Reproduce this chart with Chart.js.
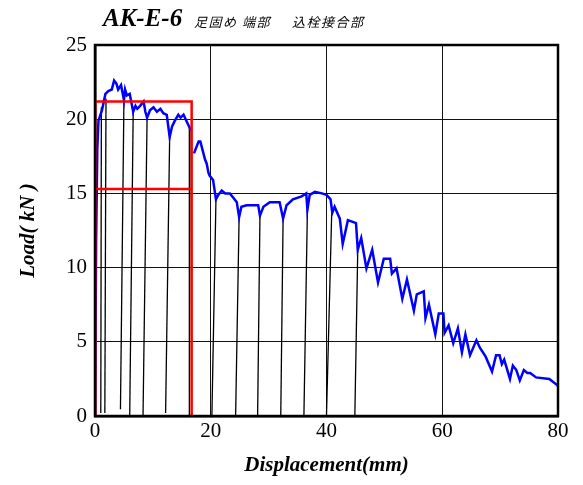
<!DOCTYPE html>
<html>
<head>
<meta charset="utf-8">
<script src="https://cdn.jsdelivr.net/npm/chart.js@4"></script>
<style>
    body { margin: 0; background: #fff; }
    #wrap { position: relative; width: 583px; height: 485px; }
    .ttl { position: absolute; color: #000; white-space: pre; }
    #t1 { left: 103px; top: 4px; font: italic bold 25px "Liberation Serif", serif; }
    #t2 { left: 194px; top: 12px; font: italic 13px "Noto Sans CJK JP", sans-serif; letter-spacing: 1.5px; }
    #t3 { left: 292px; top: 12px; font: italic 13px "Noto Sans CJK JP", sans-serif; letter-spacing: 1.5px; }
</style>
</head>
<body>
<div id="wrap">
    <canvas id="chart" width="583" height="485"></canvas>
    <div class="ttl" id="t1">AK-E-6</div>
    <div class="ttl" id="t2">足固め 端部</div>
    <div class="ttl" id="t3">込栓接合部</div>
</div>
<script>
    "use strict";

    // Envelope (blue), null = break in the recorded curve
    var envX = [0, 0.2, 0.4, 0.6, 1.2, 1.8, 2.3, 2.9, 3.3, 3.7, 4.0, 4.5, 5.0, 5.2, 5.5, 6.0, 6.6, 7.0, 7.3, 7.8,
        8.4, 8.7, 9.0, 9.5, 10.1, 10.7, 11.3, 11.8, 12.4, 12.9, 13.3, 13.8, 14.4, 14.8, 15.3, 15.9, 16.4, 16.5, 16.8,
        17.1, 17.9, 18.2, 18.4, 19.0, 19.3, 19.6, 19.8, 20.4, 20.9, 21.3, 21.9, 22.5, 23.3, 23.9, 24.5, 24.9,
        25.3, 26.2, 27.3, 28.2, 28.5, 29.1, 30.2, 31.9, 32.5, 33.1, 34.2, 35.7, 36.5, 36.7, 37.1, 38.0, 39.2,
        40.0, 40.7, 41.0, 41.4, 42.3, 42.8, 43.7, 45.1, 45.4, 46.0, 46.9, 47.9, 48.9, 49.9, 51.0, 51.3, 52.1,
        53.1, 53.9, 55.1, 55.6, 56.8, 57.1, 57.7, 58.8, 59.4, 60.2, 60.4, 61.1, 61.9, 62.7, 63.4, 64.0, 64.8,
        65.9, 66.5, 67.5, 68.6, 69.3, 69.9, 70.3, 70.7, 71.7, 72.2, 72.8, 73.4, 74.1, 74.7, 75.2, 76.2, 78.5,
        79.8, 80];
    var envY = [0, 12, 18, 19.9, 20.6, 21.7, 21.9, 22.0, 22.6, 22.4, 22.0, 22.3, 21.3, 22.0, 21.6, 21.7, 20.5, 20.9, 20.7, 20.9,
        21.2, 20.5, 20.1, 20.6, 20.8, 20.5, 20.7, 20.4, 20.3, 18.8, 19.5, 19.9, 20.3, 20.1, 20.3, 19.8, 19.4, 19.2, null,
        17.7, 18.5, 18.5, 18.2, 17.3, 17.0, 16.4, 16.2, 15.9, 14.6, 14.9, 15.2, 15.0, 15.0, 14.7, 14.4, 13.4,
        14.1, 14.2, 14.2, 14.2, 13.5, 14.1, 14.4, 14.4, 13.3, 14.2, 14.6, 14.8, 15.0, 13.9, 14.9, 15.1, 15.0,
        14.9, 14.6, 13.7, 14.1, 13.3, 11.6, 13.2, 13.0, 11.2, 12.0, 9.95, 11.2, 9.0, 10.6, 10.6, 9.6, 9.95,
        7.9, 9.2, 7.1, 8.2, 8.4, 6.6, 7.5, 5.5, 6.9, 6.9, 5.6, 6.1, 4.9, 5.9, 4.3, 5.5, 4.1,
        5.1, 4.6, 4.0, 3.0, 4.1, 4.1, 3.5, 3.8, 2.5, 3.4, 3.1, 2.4, 3.1, 2.9, 2.9, 2.6, 2.5,
        2.1, 2.0];

    // Unloading lines (black): top point on envelope, residual point near zero
    var loopTopX = [1.1, 1.9, 5.0, 6.6, 9.0, 12.9, 16.4, 20.9, 24.9, 28.5, 32.5, 36.7, 40.9, 45.4];
    var loopTopY = [20.8, 21.4, 21.3, 20.5, 20.1, 18.8, 19.4, 14.6, 13.4, 13.5, 13.3, 13.9, 13.7, 11.2];
    var loopBotX = [1.0, 1.7, 4.4, 6.0, 8.3, 12.2, 16.3, 20.2, 24.3, 28.1, 32.1, 36.1, 40.0, 44.9];
    var loopBotY = [0.2, 0.2, 0.45, 0.05, 0.05, 0.2, 0.05, 0.05, 0.05, 0.05, 0.05, 0.05, 0.05, 0.05];

    // Red model lines
    var redX = [0.05, 0.05, 16.7, 16.7];
    var redY = [0, 21.2, 21.2, 0];
    var yieldX = [0.05, 16.7];
    var yieldY = [15.3, 15.3];

    function pts(xs, ys) {
        return xs.map(function (x, i) { return {x: x, y: ys[i]}; });
    }

    var datasets = [
        {data: pts(redX, redY), borderColor: "#ff0000", borderWidth: 2.5},
        {data: pts(yieldX, yieldY), borderColor: "#ff0000", borderWidth: 2.5},
        {data: pts(envX, envY), borderColor: "#0000ff", borderWidth: 2.5}
    ];
    loopTopX.forEach(function (x, i) {
        datasets.push({
            data: pts([loopTopX[i], loopBotX[i]], [loopTopY[i], loopBotY[i]]),
            borderColor: "#000000", borderWidth: 1.3
        });
    });
    datasets.forEach(function (d) {
        d.showLine = true;
        d.spanGaps = false;
        d.pointRadius = 0;
        d.fill = false;
        d.tension = 0;
    });

    // Frame round the plot area
    var frame = {
        id: "frame",
        afterDatasetsDraw: function (chart) {
            var a = chart.chartArea, c = chart.ctx;
            c.save();
            c.strokeStyle = "#000";
            c.lineWidth = 2.5;
            c.strokeRect(a.left, a.top, a.right - a.left, a.bottom - a.top);
            c.restore();
        }
    };

    var tickFont = {family: "'Liberation Serif', serif", size: 21};
    var titleFont = {family: "'Liberation Serif', serif", size: 21, weight: "bold", style: "italic"};

    new Chart(document.getElementById("chart").getContext("2d"), {
        type: "scatter",
        data: {datasets: datasets},
        plugins: [frame],
        options: {
            responsive: false,
            animation: false,
            layout: {padding: {top: 45, right: 25, left: 0, bottom: 0}},
            plugins: {legend: {display: false}, tooltip: {enabled: false}},
            scales: {
                x: {
                    type: "linear", min: 0, max: 80,
                    ticks: {stepSize: 20, color: "#000", font: tickFont, padding: 3, maxRotation: 0},
                    grid: {color: "#111", lineWidth: 1, drawTicks: false},
                    border: {color: "#000", width: 2.5},
                    title: {display: true, text: "Displacement(mm)", color: "#000", font: titleFont, padding: {top: 0, bottom: 7}},
                    afterFit: function (s) { s.height = 69; }
                },
                y: {
                    type: "linear", min: 0, max: 25,
                    ticks: {stepSize: 5, color: "#000", font: tickFont, padding: 8},
                    grid: {color: "#111", lineWidth: 1, drawTicks: false},
                    border: {color: "#000", width: 2.5},
                    title: {display: true, text: "Load( kN )", color: "#000", font: titleFont, padding: {top: 16, bottom: 0}},
                    afterFit: function (s) { s.width = 95; }
                }
            }
        }
    });
</script>
</body>
</html>
